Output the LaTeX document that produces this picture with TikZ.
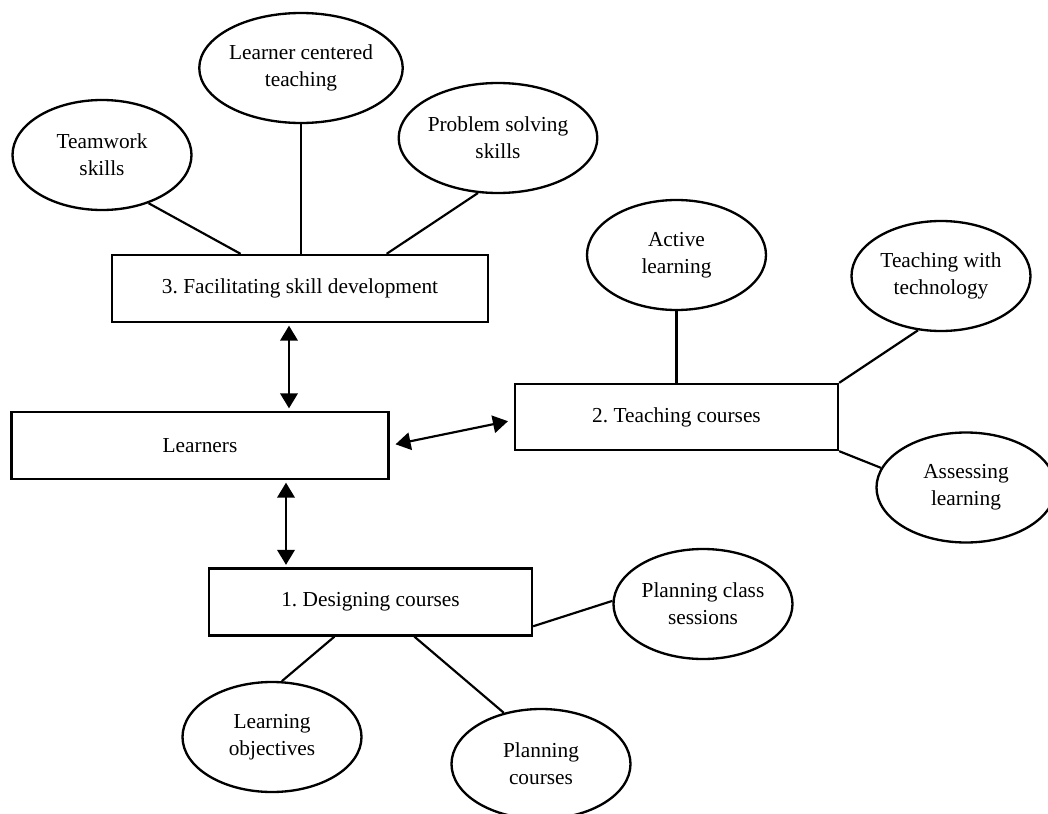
\documentclass[tikz,border=0pt]{standalone}
\usepackage{fontspec}
\setmainfont{Liberation Serif}
\usetikzlibrary{arrows.meta,shapes.geometric,calc}
\frenchspacing

\begin{document}
\begin{tikzpicture}[x=0.6pt,y=-0.6pt,>={Triangle[length=9pt,width=10.5pt]},
font=\fontsize{12.8}{16.2}\selectfont,
box/.style={draw,line width=1.4pt,minimum height=40.2pt,inner sep=0pt},
bubble/.style={draw,ellipse,line width=1.4pt,minimum width=107.4pt,minimum height=66pt,inner sep=0pt,align=center},
link/.style={line width=1.3pt},
arr/.style={<->,line width=1.3pt,shorten <=1.5pt,shorten >=1.5pt}]
\useasboundingbox (0,0) rectangle (1048,814);
\clip (0,0) rectangle (1048,814);
\node[box,minimum width=225.6pt] (fac) at (300,288.5) {3. Facilitating skill development};
\node[box,minimum width=226.2pt] (learners) at (200,445.5) {Learners};
\node[box,minimum width=193.8pt,minimum height=39.6pt] (teach) at (676.5,417) {2. Teaching courses};
\node[box,minimum width=193.8pt] (design) at (370.5,602) {1. Designing courses};
\node[bubble] (team) at (102,155) {Teamwork\\skills};
\node[bubble] (lct) at (301,68) {Learner centered\\teaching};
\node[bubble] (prob) at (498,138) {Problem solving\\skills};
\node[bubble] (active) at (676.5,255) {Active\\learning};
\node[bubble] (tech) at (941,276) {Teaching with\\technology};
\node[bubble] (assess) at (966,487.5) {Assessing\\learning};
\node[bubble] (planclass) at (703,604) {Planning class\\sessions};
\node[bubble] (obj) at (272,737) {Learning\\objectives};
\node[bubble] (plancourse) at (541,764) {Planning\\courses};
\coordinate (up) at ($(fac.south)+(-11,0)$);
\coordinate (down) at ($(learners.south)+(86,0)$);
\draw[link] ($(fac.north west)!0.343!(fac.north east)$) -- (team.-46);
\draw[link] (lct.south) -- (lct.south |- fac.north);
\draw[link] ($(fac.north west)!0.729!(fac.north east)$) -- (prob.-110);
\draw[link] (active) -- (teach);
\draw[link] (teach.north east) -- (tech.-113);
\draw[link] (teach.south east) -- (assess.167);
\draw[link] ($(design.east)!0.7!(design.south east)$) -- (planclass.178);
\draw[link] ($(design.south west)!0.389!(design.south east)$) -- (obj.80);
\draw[link] ($(design.south west)!0.635!(design.south east)$) -- (plancourse.126);
\draw[arr] (up) -- (up |- learners.north);
\draw[arr] (down) -- (down |- design.north);
\draw[arr,shorten <=3.6pt,shorten >=3.6pt] (learners.east) -- ($(teach.west)+(0,3)$);
\end{tikzpicture}
\end{document}
